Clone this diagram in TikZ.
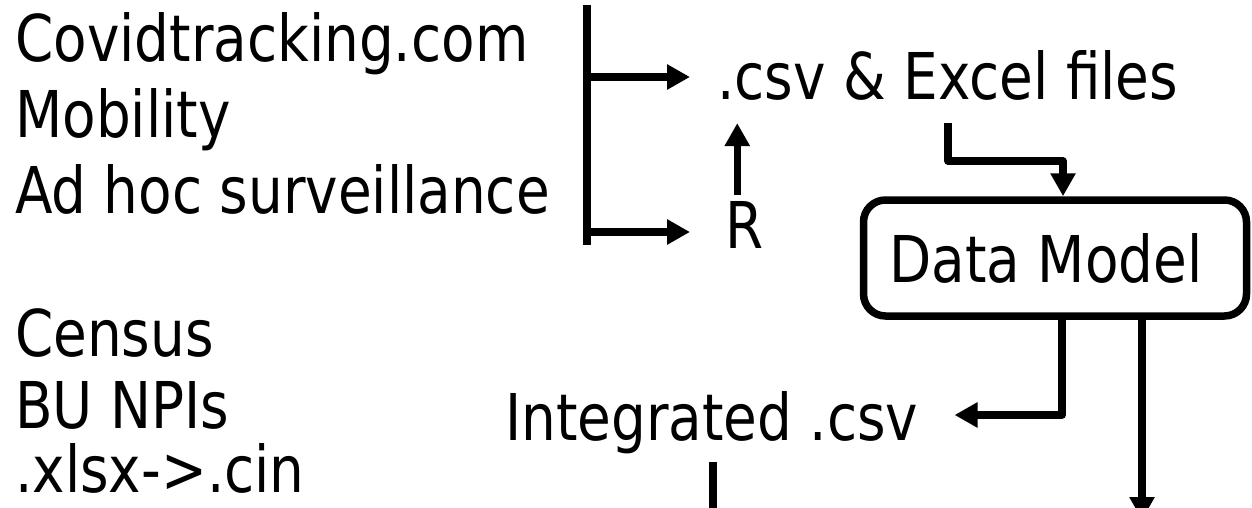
\documentclass[tikz,border=0pt]{standalone}
\usepackage{fontspec}
\setmainfont{DejaVu Sans}[FakeStretch=0.85]
\usepackage{tikz}
\usetikzlibrary{arrows.meta, positioning, calc}

\begin{document}
\begin{tikzpicture}[x=1pt, y=-1pt,
    lbl/.style={anchor=base west, inner sep=0pt, font=\fontsize{64.5}{75}\selectfont},
    conn/.style={line width=7.5pt, line join=round},
    arr/.style={conn, -{Triangle[length=23pt, width=24pt]}},
    modelbox/.style={draw, line width=7.5pt, rounded corners=22pt, minimum width=383pt,
        minimum height=116pt, inner sep=0pt, font=\fontsize{64.5}{75}\selectfont}]
    \clip (0,0) rectangle (1252,508);

    % sources
    \node[lbl] (covid_tracking) at (15,62) {Covidtracking.com};
    \node[lbl] (mobility) at (15,138) {Mobility};
    \node[lbl] (ad_hoc) at (15,213) {Ad hoc surveillance};
    \node[lbl] (census) at (15,356) {Census};
    \node[lbl] (bu_npis) at (15,428) {BU NPIs};
    \node[lbl] (xlsx_cin) at (15,492) {.xlsx->.cin};

    % formats
    \node[lbl] (csv_excel) at (717,100) {.csv \& Excel files};
    \node[lbl] (r_lang) at (725,248) {R};
    \node[modelbox] (data_model) at (1055,258) {Data Model\hspace*{18pt}};
    \node[lbl] (integrated_csv) at (505,440) {Integrated .csv};

    % bracket
    \coordinate (br_top) at (587,5);
    \coordinate (br_bot) at (587,245);
    \coordinate (br_csv) at (587,77);
    \coordinate (br_r) at (587,232);
    \draw[conn] (br_top) -- (br_bot);
    \draw[arr] (br_csv) -- ([xshift=-27pt]csv_excel.west |- br_csv);
    \draw[arr] (br_r) -- ([xshift=-35pt]r_lang.west |- br_r);
    \draw[arr] ([xshift=-7pt,yshift=6pt]r_lang.north) -- ([xshift=-7pt,yshift=-22pt]r_lang.north |- csv_excel.south);

    % into the model
    \coordinate (excel_bend) at (948,161);
    \draw[arr] ([yshift=-22pt]csv_excel.south -| excel_bend) -- (excel_bend) -| ([xshift=8pt]data_model.north);

    % out of the model
    \coordinate (integ_bend) at (1062,415);
    \coordinate (model_out) at (1142,520);
    \coordinate (integ_out) at (713,520);
    \draw[arr] (data_model.south -| integ_bend) -- (integ_bend) -- ([xshift=36pt]integrated_csv.east |- integ_bend);
    \draw[arr] (data_model.south -| model_out) -- (model_out);
    \draw[conn] ([yshift=-8pt]integrated_csv.south -| integ_out) -- (integ_out);
\end{tikzpicture}
\end{document}
